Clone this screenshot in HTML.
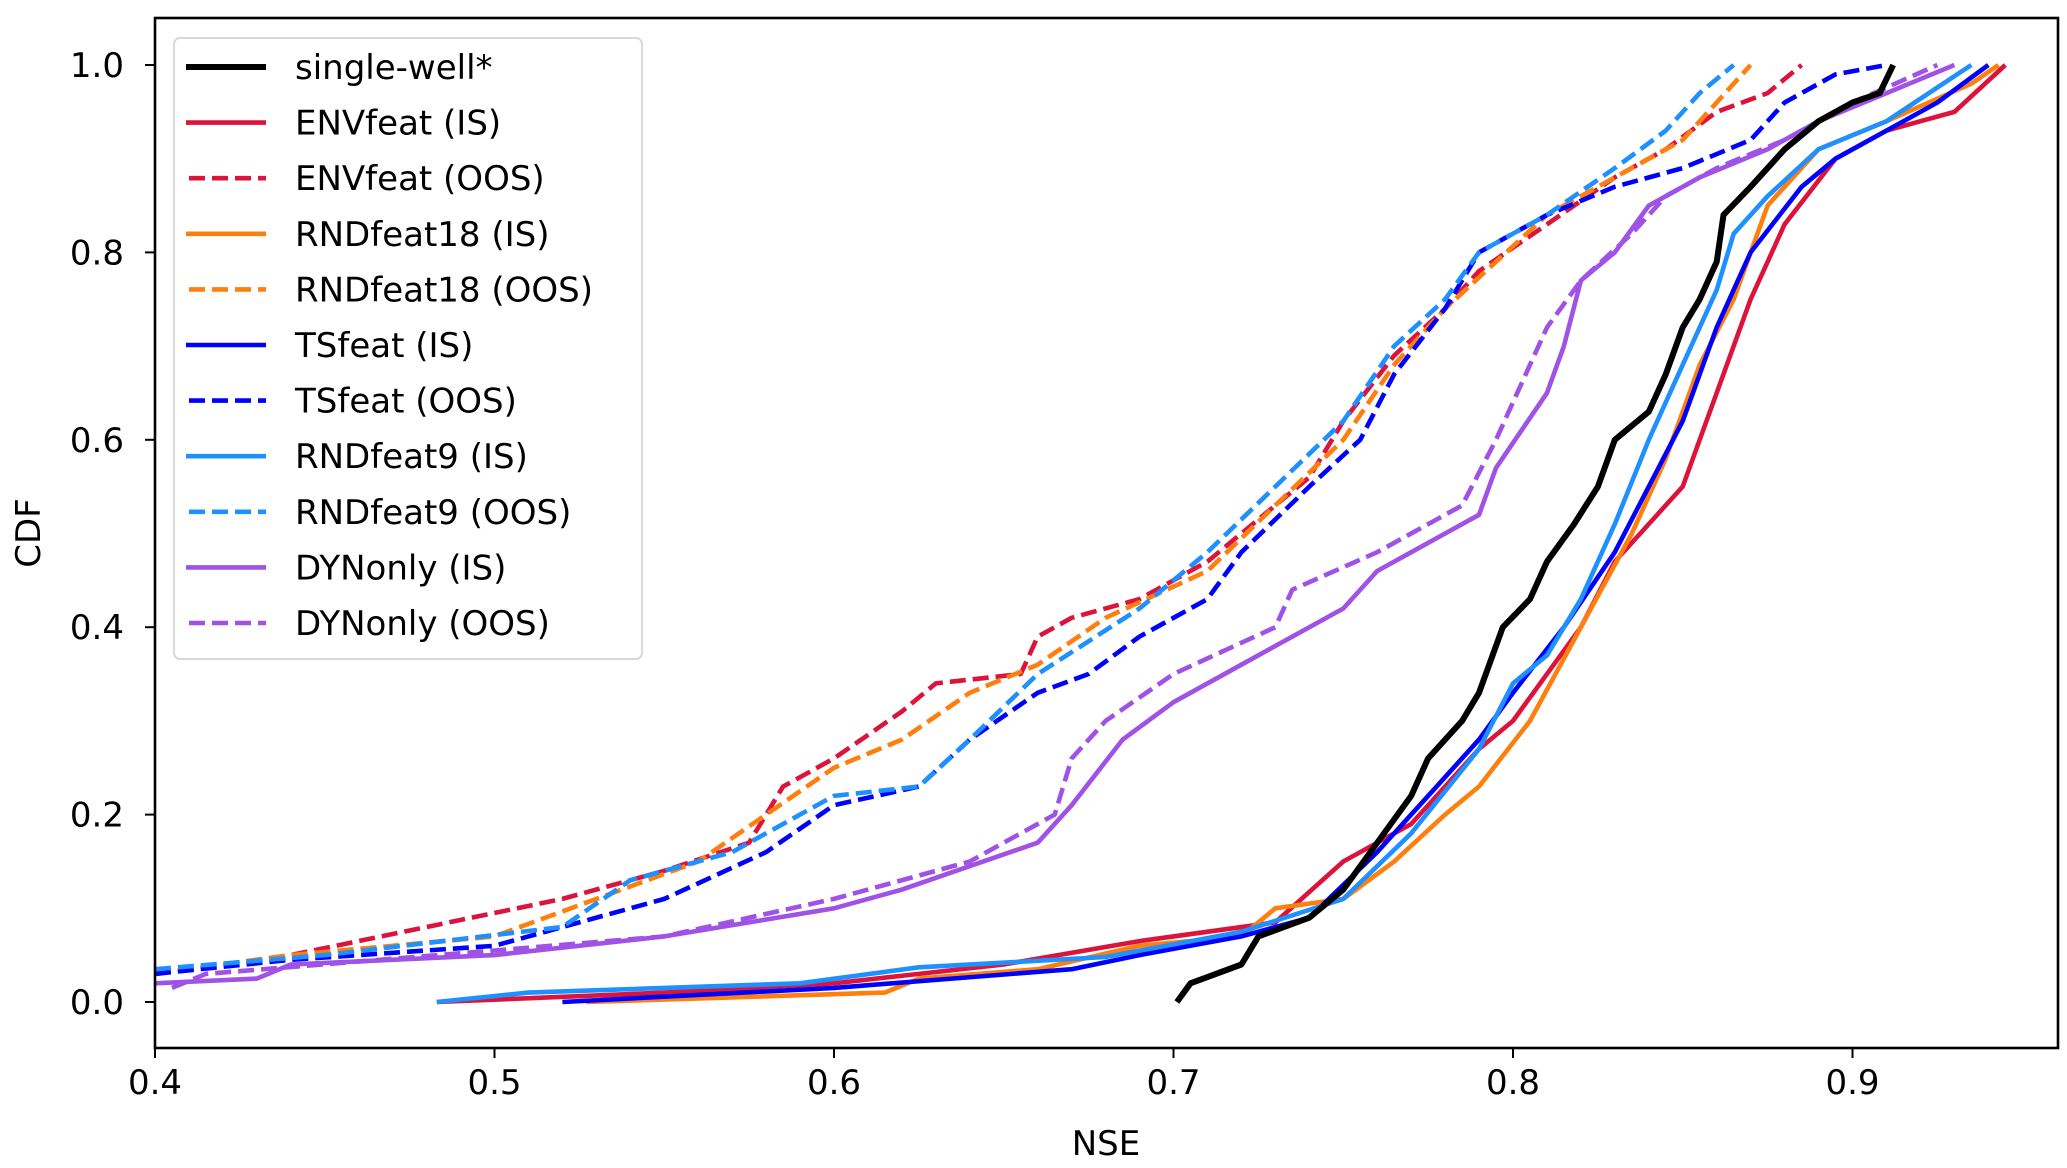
<!DOCTYPE html>
<html><head><meta charset="utf-8"><style>
html,body{margin:0;padding:0;background:#fff;}
svg{display:block;font-family:"DejaVu Sans","Liberation Sans",sans-serif;}
</style></head><body>
<svg id="chart" width="2067" height="1168" viewBox="0 0 2067 1168" xmlns="http://www.w3.org/2000/svg">
<defs><clipPath id="plotclip"><rect x="155" y="18" width="1903" height="1030"/></clipPath></defs>
<rect x="0" y="0" width="2067" height="1168" fill="#fff"/>
<g id="series" clip-path="url(#plotclip)"></g>
<rect x="155" y="18" width="1903" height="1030" fill="none" stroke="#000" stroke-width="2.6"/>
<g id="xticks"></g>
<g id="yticks"></g>
<text x="1106" y="1155" font-size="34" text-anchor="middle">NSE</text>
<text transform="translate(40,533) rotate(-90)" font-size="34" text-anchor="middle">CDF</text>
<g id="legend"></g>
</svg>
<script>
const xTicks=[0.4,0.5,0.6,0.7,0.8,0.9];
const yTicks=[0.0,0.2,0.4,0.6,0.8,1.0];
const seriesNames=["single-well*","ENVfeat (IS)","ENVfeat (OOS)","RNDfeat18 (IS)","RNDfeat18 (OOS)","TSfeat (IS)","TSfeat (OOS)","RNDfeat9 (IS)","RNDfeat9 (OOS)","DYNonly (IS)","DYNonly (OOS)"];
const singleWellX=[0.701,0.705,0.72,0.725,0.74,0.75,0.76,0.77,0.775,0.785,0.79,0.797,0.805,0.81,0.818,0.825,0.83,0.84,0.845,0.85,0.855,0.86,0.862,0.87,0.88,0.89,0.9,0.908,0.912];
const singleWellY=[0,0.02,0.04,0.07,0.09,0.12,0.17,0.22,0.26,0.30,0.33,0.40,0.43,0.47,0.51,0.55,0.60,0.63,0.67,0.72,0.75,0.79,0.84,0.87,0.91,0.94,0.96,0.97,1.0];
const envISX=[0.483,0.55,0.6,0.65,0.69,0.73,0.75,0.77,0.79,0.80,0.82,0.83,0.85,0.86,0.87,0.88,0.895,0.91,0.93,0.945];
const envISY=[0,0.01,0.02,0.04,0.065,0.085,0.15,0.19,0.27,0.30,0.40,0.47,0.55,0.65,0.75,0.83,0.90,0.93,0.95,1.0];
const envOOSX=[0.40,0.44,0.48,0.52,0.55,0.575,0.585,0.6,0.62,0.63,0.655,0.66,0.67,0.69,0.71,0.73,0.74,0.75,0.765,0.78,0.79,0.81,0.83,0.845,0.86,0.875,0.885];
const envOOSY=[0.03,0.05,0.08,0.11,0.14,0.17,0.23,0.26,0.31,0.34,0.35,0.39,0.41,0.43,0.47,0.53,0.56,0.62,0.69,0.74,0.78,0.83,0.88,0.91,0.95,0.97,1.0];
const rnd18ISX=[0.527,0.615,0.625,0.66,0.69,0.72,0.73,0.75,0.765,0.78,0.79,0.805,0.82,0.835,0.845,0.855,0.865,0.875,0.89,0.91,0.935,0.943];
const rnd18ISY=[0,0.01,0.025,0.035,0.06,0.07,0.10,0.11,0.15,0.20,0.23,0.30,0.40,0.50,0.58,0.68,0.75,0.85,0.91,0.94,0.98,1.0];
const rnd18OOSX=[0.40,0.44,0.5,0.53,0.56,0.58,0.60,0.62,0.64,0.66,0.68,0.71,0.73,0.75,0.765,0.78,0.795,0.81,0.83,0.85,0.86,0.87];
const rnd18OOSY=[0.03,0.05,0.07,0.11,0.15,0.2,0.25,0.28,0.33,0.36,0.41,0.46,0.53,0.6,0.68,0.74,0.79,0.84,0.88,0.92,0.96,1.0];
const tsISX=[0.52,0.6,0.67,0.69,0.72,0.74,0.76,0.775,0.79,0.80,0.815,0.83,0.84,0.85,0.86,0.87,0.885,0.895,0.91,0.925,0.94];
const tsISY=[0,0.015,0.035,0.05,0.07,0.09,0.16,0.22,0.28,0.33,0.40,0.48,0.55,0.62,0.72,0.80,0.87,0.90,0.93,0.96,1.0];
const tsOOSX=[0.40,0.44,0.5,0.55,0.58,0.60,0.625,0.64,0.66,0.675,0.69,0.71,0.72,0.74,0.755,0.765,0.78,0.79,0.81,0.83,0.85,0.87,0.88,0.895,0.91];
const tsOOSY=[0.03,0.045,0.06,0.11,0.16,0.21,0.23,0.28,0.33,0.35,0.39,0.43,0.48,0.55,0.6,0.67,0.74,0.8,0.84,0.87,0.89,0.92,0.96,0.99,1.0];
const rnd9ISX=[0.483,0.51,0.59,0.625,0.68,0.72,0.75,0.77,0.79,0.80,0.81,0.82,0.83,0.84,0.85,0.86,0.865,0.875,0.89,0.91,0.935];
const rnd9ISY=[0,0.01,0.02,0.037,0.048,0.075,0.11,0.18,0.27,0.34,0.37,0.43,0.51,0.60,0.68,0.76,0.82,0.86,0.91,0.94,1.0];
const rnd9OOSX=[0.40,0.45,0.52,0.54,0.57,0.59,0.60,0.625,0.64,0.66,0.69,0.71,0.73,0.75,0.765,0.78,0.79,0.81,0.83,0.845,0.855,0.865];
const rnd9OOSY=[0.035,0.05,0.08,0.13,0.16,0.2,0.22,0.23,0.28,0.35,0.42,0.48,0.55,0.62,0.7,0.75,0.8,0.84,0.89,0.93,0.97,1.0];
const dynISX=[0.40,0.43,0.44,0.5,0.55,0.6,0.62,0.66,0.67,0.685,0.7,0.72,0.75,0.76,0.78,0.79,0.795,0.81,0.815,0.82,0.83,0.84,0.855,0.875,0.89,0.91,0.93];
const dynISY=[0.02,0.025,0.04,0.05,0.07,0.10,0.12,0.17,0.21,0.28,0.32,0.36,0.42,0.46,0.50,0.52,0.57,0.65,0.70,0.77,0.80,0.85,0.88,0.91,0.94,0.97,1.0];
const dynOOSX=[0.405,0.415,0.5,0.55,0.6,0.64,0.665,0.67,0.68,0.7,0.73,0.735,0.76,0.785,0.795,0.8,0.81,0.82,0.835,0.845,0.86,0.88,0.9,0.925];
const dynOOSY=[0.015,0.03,0.055,0.07,0.11,0.15,0.2,0.26,0.3,0.35,0.4,0.44,0.48,0.53,0.6,0.64,0.72,0.77,0.82,0.86,0.89,0.92,0.96,1.0];

const NS='http://www.w3.org/2000/svg';
function xs(v){return 155+(v-0.4)*3395;}
function ys(v){return 1002-v*937;}
const specs=[
 [singleWellX,singleWellY,'#000000',false,'series-single-well'],
 [envISX,envISY,'#dc143c',false,'series-envfeat-is'],
 [envOOSX,envOOSY,'#dc143c',true,'series-envfeat-oos'],
 [rnd18ISX,rnd18ISY,'#ff7f0e',false,'series-rndfeat18-is'],
 [rnd18OOSX,rnd18OOSY,'#ff7f0e',true,'series-rndfeat18-oos'],
 [tsISX,tsISY,'#0000ff',false,'series-tsfeat-is'],
 [tsOOSX,tsOOSY,'#0000ff',true,'series-tsfeat-oos'],
 [rnd9ISX,rnd9ISY,'#1e90ff',false,'series-rndfeat9-is'],
 [rnd9OOSX,rnd9OOSY,'#1e90ff',true,'series-rndfeat9-oos'],
 [dynISX,dynISY,'#a052e6',false,'series-dynonly-is'],
 [dynOOSX,dynOOSY,'#a052e6',true,'series-dynonly-oos']
];
const sg=document.getElementById('series');
const drawOrder=[9,10,2,4,6,8,1,3,5,7,0];
drawOrder.forEach(i=>{
 const s=specs[i];
 const p=document.createElementNS(NS,'polyline');
 p.setAttribute('points',s[0].map((x,k)=>xs(x).toFixed(1)+','+ys(s[1][k]).toFixed(1)).join(' '));
 p.setAttribute('fill','none');
 p.setAttribute('stroke',s[2]);
 p.setAttribute('stroke-width',i===0?'6':'4.6');
 p.setAttribute('stroke-linejoin','round');
 if(s[3])p.setAttribute('stroke-dasharray','16,7');
 
 
 sg.appendChild(p);
});
const xg=document.getElementById('xticks');
xTicks.forEach(t=>{
 const l=document.createElementNS(NS,'line');
 l.setAttribute('x1',xs(t));l.setAttribute('x2',xs(t));l.setAttribute('y1',1048);l.setAttribute('y2',1058);
 l.setAttribute('stroke','#000');l.setAttribute('stroke-width','2');
 
 
 xg.appendChild(l);
 const tx=document.createElementNS(NS,'text');
 tx.setAttribute('x',xs(t));tx.setAttribute('y',1094);tx.setAttribute('font-size','34');tx.setAttribute('text-anchor','middle');
 tx.textContent=t.toFixed(1);
 
 
 xg.appendChild(tx);
});
const yg=document.getElementById('yticks');
yTicks.forEach(t=>{
 const l=document.createElementNS(NS,'line');
 l.setAttribute('x1',145);l.setAttribute('x2',155);l.setAttribute('y1',ys(t));l.setAttribute('y2',ys(t));
 l.setAttribute('stroke','#000');l.setAttribute('stroke-width','2');
 
 
 yg.appendChild(l);
 const tx=document.createElementNS(NS,'text');
 tx.setAttribute('x',124);tx.setAttribute('y',ys(t)+12);tx.setAttribute('font-size','34');tx.setAttribute('text-anchor','end');
 tx.textContent=t.toFixed(1);
 
 
 yg.appendChild(tx);
});
const lg=document.getElementById('legend');
const box=document.createElementNS(NS,'rect');
box.setAttribute('x',174);box.setAttribute('y',38);box.setAttribute('width',468);box.setAttribute('height',621);
box.setAttribute('rx',6);box.setAttribute('fill','#fff');box.setAttribute('fill-opacity','0.85');box.setAttribute('stroke','#d8d8d8');box.setAttribute('stroke-width','2');


lg.appendChild(box);
seriesNames.forEach((n,i)=>{
 const s=specs[i];
 const y=67+i*55.6;
 const l=document.createElementNS(NS,'line');
 l.setAttribute('x1',186);l.setAttribute('x2',266);l.setAttribute('y1',y);l.setAttribute('y2',y);
 l.setAttribute('stroke',s[2]);l.setAttribute('stroke-width',i===0?'6':'4.6');
 if(s[3]){l.setAttribute('stroke-dasharray','16,7');l.setAttribute('x1',189);}
 
 
 lg.appendChild(l);
 const tx=document.createElementNS(NS,'text');
 tx.setAttribute('x',295);tx.setAttribute('y',y+12);tx.setAttribute('font-size','34');
 tx.textContent=n;
 
 
 lg.appendChild(tx);
});
</script>
</body></html>
